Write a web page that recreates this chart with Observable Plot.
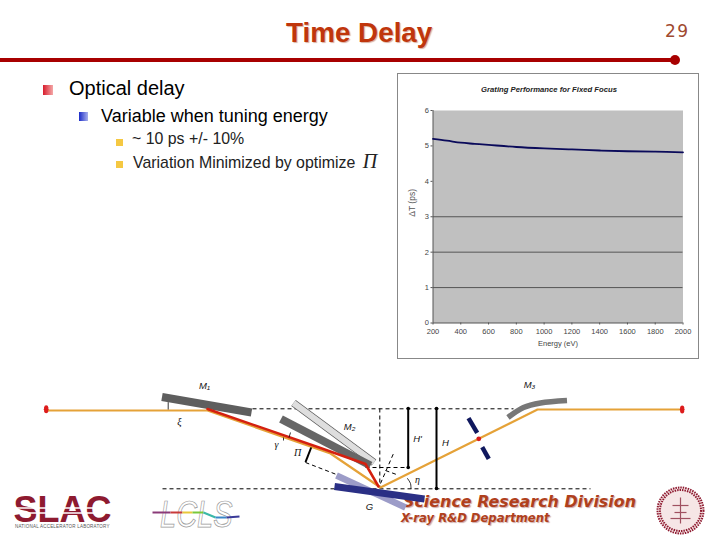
<!DOCTYPE html>
<html>
<head>
<meta charset="utf-8">
<script src="https://cdn.jsdelivr.net/npm/d3@7"></script>
<script src="https://cdn.jsdelivr.net/npm/@observablehq/plot@0.6"></script>
<style>
html,body{margin:0;padding:0;background:#fff}
#slide{position:relative;width:720px;height:540px;overflow:hidden;font-family:"Liberation Sans",Arial,sans-serif}
#slide>div,#slide>svg{position:absolute}
.t{white-space:nowrap;line-height:1}
#slide svg{display:block;background:transparent}
</style>
</head>
<body>
<div id="slide">
  <div class="t" style="left:286px;top:18.5px;font-size:27.8px;font-weight:bold;color:#c0360c;text-shadow:1px 1px 1px #d9b0a0">Time Delay</div>
  <div class="t" style="left:665px;top:23px;font-family:'DejaVu Sans';font-size:17px;letter-spacing:1.4px;color:#a04a30">29</div>
  <div style="left:0;top:58px;width:675px;height:4px;background:#a80000"></div>
  <div style="left:670px;top:55px;width:10px;height:10px;border-radius:5px;background:#a80000"></div>

  <div style="left:43px;top:85px;width:9.5px;height:9.5px;background:linear-gradient(90deg,#d81c2c,#f4a8a8)"></div>
  <div class="t" style="left:69px;top:78px;font-size:20px;color:#000">Optical delay</div>
  <div style="left:79px;top:112px;width:8.5px;height:9px;background:linear-gradient(90deg,#1c2cc8,#a8b0ec)"></div>
  <div class="t" style="left:101px;top:107px;font-size:18px;color:#000">Variable when tuning energy</div>
  <div style="left:116px;top:138.5px;width:7px;height:7px;background:#f5c842"></div>
  <div class="t" style="left:132px;top:131px;font-size:15.9px;color:#222">~ 10 ps +/- 10%</div>
  <div style="left:116px;top:161px;width:7px;height:7px;background:#f5c842"></div>
  <div class="t" style="left:133px;top:154px;font-size:15.9px;color:#222">Variation Minimized by optimize <span style="font-family:'Liberation Serif';font-style:italic;font-size:20px;margin-left:3px;line-height:14px">Π</span></div>

  <div class="t" style="left:403px;top:494px;font-family:'DejaVu Sans';font-weight:bold;font-style:italic;font-size:15.9px;color:#b0401c;text-shadow:1px 1px 1px #caa">Science Research Division</div>
  <div class="t" style="left:401px;top:513px;font-family:'DejaVu Sans';font-weight:bold;font-style:italic;font-size:11.6px;color:#b0401c;text-shadow:1px 1px 1px #caa">X-ray R&amp;D Department</div>

  <div class="t" style="left:13.5px;top:495px;height:30px;line-height:30px;font-size:36px;font-weight:bold;color:#8e1a30">SLAC</div>
  <div class="t" style="left:15px;top:525px;font-size:4.5px;letter-spacing:.22px;color:#555">NATIONAL ACCELERATOR LABORATORY</div>
  <div class="t" style="left:160px;top:497px;font-size:29px;font-style:italic;color:transparent;-webkit-text-stroke:.6px #999;transform:scaleY(1.25);transform-origin:0 0">LCLS</div>
</div>
<script>
// Chart values
const energy = [200, 300, 400, 500, 600, 800, 1000, 1200, 1400, 1600, 1800, 2000];
const delay = [5.2, 5.15, 5.09, 5.06, 5.03, 4.97, 4.93, 4.9, 4.87, 4.85, 4.84, 4.82];
const xTicks = [200, 400, 600, 800, 1000, 1200, 1400, 1600, 1800, 2000];
const yTicks = [0, 1, 2, 3, 4, 5, 6];
const gridLevels = [1, 2, 3];
const chartTitle = "Grating Performance for Fixed Focus";
const xLabel = "Energy (eV)";
const yLabel = "ΔT (ps)";

// Beamline diagram, read in slide pixels
const orangeBeam = [[48,410],[207,410],[330,453],[380,487],[537,409],[680,409]];
const redBeam = [[207,408.5],[320,447.5],[365,463.5],[378,486]];
const mirrorM1 = [[161.5,396.5,251,412]];
const mirrorM2Ghost = [[293,402.5,373.5,462]];
const mirrorM2 = [[280.5,418.5,370,465]];
const gratingGhost = [[336,475,405,507]];
const grating = [[334,486,424,498.5]];
const mirrorM3 = [[507.5,417],[523,407],[540,402.5],[566.5,400]];
const dashedLines = [[252,408.3,513,408.3],[162,488.3,590,488.3],[379.3,408,379.3,486],[365,467,408,467],[305,462,336,474],[380,483,393,453],[385,470,396,474]];
const heightBars = [[407.7,408,407.7,467],[436,408,436,488]];
const piArrow = [[310.7,447,305,461.7]];
const slitBlades = [[468,417.7,476.7,432.3],[481.7,446.7,488.3,458.3]];
const angleTicks = [[167.7,401.7,167.7,409],[290,432,288.5,437],[283,437,283,440]];
const angleArc = [[407,478],[410,483],[410.5,488]];
const endDots = [[45.7,408.7],[681.7,409]];
const focusDot = [[478.3,438.3]];
const sealRings = [23,20.5];
const symbols = [
  ["M₁",204,385],["M₃",529,384],["M₂",349,426],["H'",417,438],["H",445,442],["G",369,506]
];
const greekSymbols = [["ξ",179,421],["γ",276,444],["Π",297,452],["η",417,479]];
const logoStripes = [[14,507.5,110,507.5],[14,512.5,110,512.5]];
const rainbowStops = [[152,512,170,512,"#8a3a78"],[170,512,182,512,"#c83a3a"],[182,512,192,512,"#e8c83a"],[192,512,203,512,"#7ac83a"],[203,512,215,517,"#3ab8a8"],[215,517,226,517,"#3a88c8"],[226,517,239,516,"#3a3a98"]];
const sealTree = [[680,497,680,523],[672,505,688,505],[674,512,686,512],[670,518,690,518]];

const links = (a, o) => Plot.link(a, {x1: d => d[0], y1: d => d[1], x2: d => d[2], y2: d => d[3], ...o});
const path = (a, o) => Plot.line(a, {x: d => d[0], y: d => d[1], ...o});

const diagram = Plot.plot({
  width: 720, height: 540, margin: 0,
  x: {domain: [0, 720], range: [0, 720], axis: null},
  y: {domain: [0, 540], range: [0, 540], axis: null},
  r: {type: "identity"},
  style: {background: "transparent", overflow: "visible"},
  marks: [
    links(logoStripes, {stroke: "#fff", strokeWidth: 1.4}),
    links(rainbowStops, {stroke: d => d[4], strokeWidth: 2}),
    links(dashedLines, {stroke: "#000", strokeWidth: 1, strokeDasharray: "4,3"}),
    links(mirrorM2Ghost, {stroke: "#555", strokeWidth: 7.5}),
    links(mirrorM2Ghost, {stroke: "#dedede", strokeWidth: 6}),
    links(mirrorM1, {stroke: "#5e5e5e", strokeWidth: 8}),
    links(mirrorM2, {stroke: "#666", strokeWidth: 8}),
    path(mirrorM3, {stroke: "#777", strokeWidth: 5.5, curve: "catmull-rom", strokeLinecap: "butt"}),
    links(gratingGhost, {stroke: "#9c9cc8", strokeWidth: 6.5}),
    links(grating, {stroke: "#2a2f85", strokeWidth: 7}),
    path(orangeBeam, {stroke: "#e5a238", strokeWidth: 2.2}),
    path(redBeam, {stroke: "#d4200f", strokeWidth: 2.5}),
    links(heightBars, {stroke: "#000", strokeWidth: 2}),
    Plot.dot(heightBars.flatMap(d => [[d[0], d[1]], [d[2], d[3]]]), {x: d => d[0], y: d => d[1], r: 1.8, fill: "#000"}),
    links(piArrow, {stroke: "#000", strokeWidth: 2}),
    links(slitBlades, {stroke: "#10185e", strokeWidth: 4.5}),
    links(angleTicks, {stroke: "#000", strokeWidth: 0.8}),
    path(angleArc, {stroke: "#000", strokeWidth: 0.8, curve: "catmull-rom"}),
    Plot.dot(endDots, {x: d => d[0], y: d => d[1], r: 2.4, fill: "#dd1c1c"}),
    Plot.dot(endDots, {x: d => d[0], y: d => d[1] - 2, r: 2, fill: "#dd1c1c"}),
    Plot.dot(endDots, {x: d => d[0], y: d => d[1] + 2, r: 2, fill: "#dd1c1c"}),
    Plot.dot(focusDot, {x: d => d[0], y: d => d[1], r: 2.4, fill: "#d81c1c"}),
    Plot.text(symbols, {text: d => d[0], x: d => d[1], y: d => d[2], fontSize: 9.5, fontStyle: "italic", fontFamily: "Liberation Sans", fill: "#111"}),
    Plot.text(greekSymbols, {text: d => d[0], x: d => d[1], y: d => d[2], fontSize: 10, fontStyle: "italic", fontFamily: "Liberation Serif", fill: "#111"}),
    Plot.dot(sealRings, {x: () => 680, y: () => 510, r: d => d, stroke: "#8e1a30", strokeWidth: 2, strokeDasharray: "1.5,1", fill: "#f6e6e6"}),
    links(sealTree, {stroke: "#a05060", strokeWidth: 1.2})
  ]
});
diagram.style.left = "0"; diagram.style.top = "0";
document.getElementById("slide").appendChild(diagram);

const box = document.createElement("div");
box.style.cssText = "left:397px;top:73px;width:300px;height:284px;border:1px solid #888;background:#fff";
const chart = Plot.plot({
  width: 300, height: 284,
  marginLeft: 34.5, marginRight: 15.5, marginTop: 36, marginBottom: 35.5,
  x: {domain: [200, 2000]},
  y: {domain: [0, 6]},
  style: {background: "transparent", fontFamily: "Liberation Sans", color: "#444", overflow: "visible"},
  marks: [
    Plot.frame({fill: "#c0c0c0", stroke: null}),
    Plot.gridY(gridLevels, {stroke: "#555", strokeOpacity: 1, strokeWidth: 1}),
    Plot.ruleX([200], {stroke: "#555"}),
    Plot.ruleY([0], {stroke: "#555"}),
    Plot.axisX({ticks: xTicks, tickSize: 2, tickPadding: 4, fontSize: 7.5, tickFormat: d => String(d), label: xLabel, labelAnchor: "center", labelArrow: "none", labelOffset: 23, stroke: "#555"}),
    Plot.axisY({ticks: yTicks, tickSize: 2, tickPadding: 2, fontSize: 7.5, tickFormat: d => String(d), label: null, stroke: "#555"}),
    Plot.text([yLabel], {frameAnchor: "left", dx: -21, rotate: -90, fontSize: 8.5, fill: "#555"}),
    Plot.lineY(energy.map((e, i) => ({e, v: delay[i]})), {x: "e", y: "v", stroke: "#0a0a5a", strokeWidth: 1.8, curve: "catmull-rom"}),
    Plot.text([chartTitle], {frameAnchor: "top", dx: -9, dy: -24, fontSize: 7.7, fontWeight: "bold", fontStyle: "italic", fill: "#222"})
  ]
});
box.appendChild(chart);
document.getElementById("slide").appendChild(box);
</script>
</body>
</html>
